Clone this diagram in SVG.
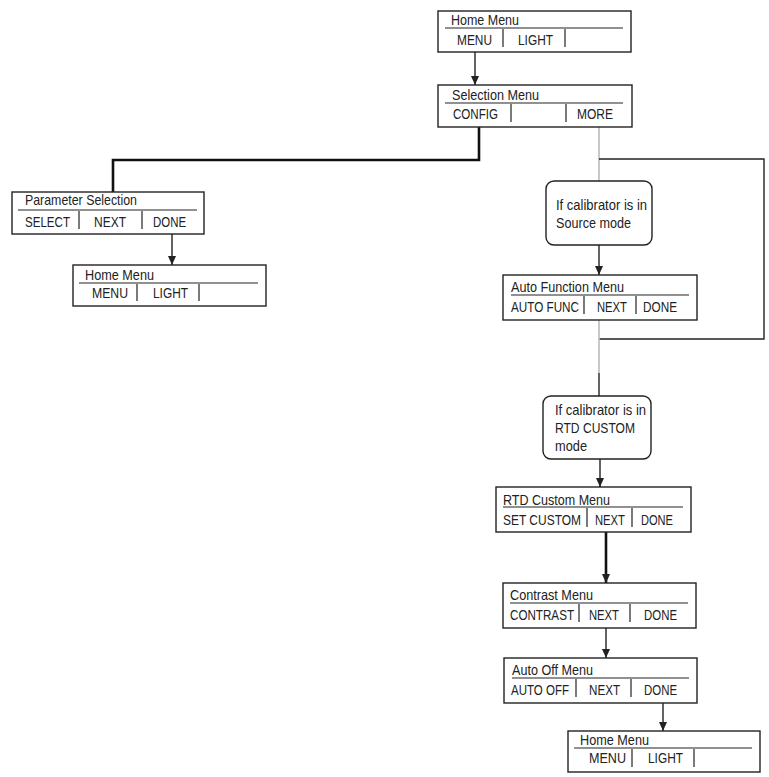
<svg xmlns="http://www.w3.org/2000/svg" width="769" height="777" viewBox="0 0 769 777">
<defs>
<marker id="arr" markerUnits="userSpaceOnUse" markerWidth="10" markerHeight="10" viewBox="0 0 10 10" refX="9" refY="5" orient="auto">
<path d="M0,1 L9,5 L0,9 Z" fill="#222"/>
</marker>
</defs>
<style>
.box{fill:#fff;stroke:#222;stroke-width:1.4}
.ul{stroke:#222;stroke-width:1.2}
.sep{stroke:#222;stroke-width:1.2}
text{font-family:"Liberation Sans Narrow","Liberation Sans",Arial,sans-serif;font-size:15px;fill:#222}
.ln{fill:none;stroke:#222;stroke-width:1.4}
.thick{fill:none;stroke:#111;stroke-width:2.6}
.grey{fill:none;stroke:#bbb;stroke-width:1.6}
</style>
<rect width="769" height="777" fill="#fff"/>
<g id="connectors">
<line class="ln" x1="475" y1="52" x2="475" y2="85" marker-end="url(#arr)"/>
<path class="thick" d="M479,127 V160 H113 V192"/>
<line class="ln" x1="172" y1="234" x2="172" y2="265" marker-end="url(#arr)"/>
<line class="grey" x1="599" y1="127" x2="599" y2="181"/>
<path class="ln" d="M599,159 H764 V339 H599"/>
<line class="ln" x1="599" y1="245" x2="599" y2="275" marker-end="url(#arr)"/>
<line class="grey" x1="599" y1="320" x2="599" y2="373"/>
<line class="ln" x1="599" y1="373" x2="599" y2="396"/>
<line class="ln" x1="600" y1="459" x2="600" y2="487" marker-end="url(#arr)"/>
<line class="thick" x1="606" y1="532" x2="606" y2="583" marker-end="url(#arr)"/>
<line class="ln" x1="606" y1="628" x2="606" y2="658" marker-end="url(#arr)"/>
<line class="ln" x1="663" y1="703" x2="663" y2="731" marker-end="url(#arr)"/>
</g>
<g id="home-menu-1">
<rect class="box" x="438" y="11" width="193" height="41"/>
<text x="451" y="25" textLength="68" lengthAdjust="spacingAndGlyphs">Home Menu</text>
<line class="ul" x1="445" y1="28" x2="623" y2="28"/>
<line class="sep" x1="503" y1="29" x2="503" y2="47"/>
<line class="sep" x1="565" y1="29" x2="565" y2="47"/>
<text x="457" y="45" textLength="35" lengthAdjust="spacingAndGlyphs">MENU</text>
<text x="518" y="45" textLength="35" lengthAdjust="spacingAndGlyphs">LIGHT</text>
</g>
<g id="selection-menu">
<rect class="box" x="438" y="85" width="194" height="42"/>
<text x="452" y="100" textLength="87" lengthAdjust="spacingAndGlyphs">Selection Menu</text>
<line class="ul" x1="445" y1="103" x2="623" y2="103"/>
<line class="sep" x1="511" y1="104" x2="511" y2="122"/>
<line class="sep" x1="566" y1="104" x2="566" y2="122"/>
<text x="453" y="119" textLength="45" lengthAdjust="spacingAndGlyphs">CONFIG</text>
<text x="577" y="119" textLength="36" lengthAdjust="spacingAndGlyphs">MORE</text>
</g>
<g id="parameter-selection">
<rect class="box" x="12" y="192" width="192" height="42"/>
<text x="25" y="205" textLength="112" lengthAdjust="spacingAndGlyphs">Parameter Selection</text>
<line class="ul" x1="18" y1="210" x2="197" y2="210"/>
<line class="sep" x1="79" y1="211" x2="79" y2="229"/>
<line class="sep" x1="142" y1="211" x2="142" y2="229"/>
<text x="25" y="227" textLength="45" lengthAdjust="spacingAndGlyphs">SELECT</text>
<text x="94" y="227" textLength="32" lengthAdjust="spacingAndGlyphs">NEXT</text>
<text x="153" y="227" textLength="33" lengthAdjust="spacingAndGlyphs">DONE</text>
</g>
<g id="home-menu-2">
<rect class="box" x="73" y="265" width="193" height="41"/>
<text x="85" y="280" textLength="69" lengthAdjust="spacingAndGlyphs">Home Menu</text>
<line class="ul" x1="79" y1="283" x2="258" y2="283"/>
<line class="sep" x1="137" y1="284" x2="137" y2="301"/>
<line class="sep" x1="199" y1="284" x2="199" y2="301"/>
<text x="92" y="298" textLength="36" lengthAdjust="spacingAndGlyphs">MENU</text>
<text x="153" y="298" textLength="35" lengthAdjust="spacingAndGlyphs">LIGHT</text>
</g>
<g id="cond-source">
<rect class="box" x="546" y="181" width="106" height="64" rx="8"/>
<text x="556" y="210" textLength="91" lengthAdjust="spacingAndGlyphs">If calibrator is in</text>
<text x="556" y="228" textLength="75" lengthAdjust="spacingAndGlyphs">Source mode</text>
</g>
<g id="auto-function-menu">
<rect class="box" x="503" y="275" width="194" height="45"/>
<text x="511" y="292" textLength="113" lengthAdjust="spacingAndGlyphs">Auto Function Menu</text>
<line class="ul" x1="511" y1="295" x2="689" y2="295"/>
<line class="sep" x1="584" y1="296" x2="584" y2="314"/>
<line class="sep" x1="636" y1="296" x2="636" y2="314"/>
<text x="511" y="312" textLength="68" lengthAdjust="spacingAndGlyphs">AUTO FUNC</text>
<text x="597" y="312" textLength="30" lengthAdjust="spacingAndGlyphs">NEXT</text>
<text x="643" y="312" textLength="34" lengthAdjust="spacingAndGlyphs">DONE</text>
</g>
<g id="cond-rtd">
<rect class="box" x="543" y="396" width="108" height="63" rx="8"/>
<text x="555" y="415" textLength="91" lengthAdjust="spacingAndGlyphs">If calibrator is in</text>
<text x="555" y="433" textLength="80" lengthAdjust="spacingAndGlyphs">RTD CUSTOM</text>
<text x="555" y="451" textLength="32" lengthAdjust="spacingAndGlyphs">mode</text>
</g>
<g id="rtd-custom-menu">
<rect class="box" x="496" y="487" width="195" height="45"/>
<text x="503" y="505" textLength="107" lengthAdjust="spacingAndGlyphs">RTD Custom Menu</text>
<line class="ul" x1="503" y1="507" x2="683" y2="507"/>
<line class="sep" x1="587" y1="508" x2="587" y2="527"/>
<line class="sep" x1="632" y1="508" x2="632" y2="527"/>
<text x="503" y="525" textLength="78" lengthAdjust="spacingAndGlyphs">SET CUSTOM</text>
<text x="595" y="525" textLength="30" lengthAdjust="spacingAndGlyphs">NEXT</text>
<text x="641" y="525" textLength="32" lengthAdjust="spacingAndGlyphs">DONE</text>
</g>
<g id="contrast-menu">
<rect class="box" x="503" y="583" width="193" height="45"/>
<text x="510" y="600" textLength="83" lengthAdjust="spacingAndGlyphs">Contrast Menu</text>
<line class="ul" x1="510" y1="603" x2="688" y2="603"/>
<line class="sep" x1="579" y1="604" x2="579" y2="622"/>
<line class="sep" x1="630" y1="604" x2="630" y2="622"/>
<text x="510" y="620" textLength="64" lengthAdjust="spacingAndGlyphs">CONTRAST</text>
<text x="589" y="620" textLength="30" lengthAdjust="spacingAndGlyphs">NEXT</text>
<text x="644" y="620" textLength="33" lengthAdjust="spacingAndGlyphs">DONE</text>
</g>
<g id="auto-off-menu">
<rect class="box" x="504" y="658" width="193" height="45"/>
<text x="512" y="675" textLength="81" lengthAdjust="spacingAndGlyphs">Auto Off Menu</text>
<line class="ul" x1="512" y1="678" x2="689" y2="678"/>
<line class="sep" x1="576" y1="679" x2="576" y2="697"/>
<line class="sep" x1="631" y1="679" x2="631" y2="697"/>
<text x="511" y="695" textLength="58" lengthAdjust="spacingAndGlyphs">AUTO OFF</text>
<text x="589" y="695" textLength="31" lengthAdjust="spacingAndGlyphs">NEXT</text>
<text x="644" y="695" textLength="33" lengthAdjust="spacingAndGlyphs">DONE</text>
</g>
<g id="home-menu-3">
<rect class="box" x="568" y="731" width="192" height="41"/>
<text x="580" y="745" textLength="69" lengthAdjust="spacingAndGlyphs">Home Menu</text>
<line class="ul" x1="574" y1="748" x2="752" y2="748"/>
<line class="sep" x1="632" y1="749" x2="632" y2="767"/>
<line class="sep" x1="694" y1="749" x2="694" y2="767"/>
<text x="589" y="763" textLength="37" lengthAdjust="spacingAndGlyphs">MENU</text>
<text x="648" y="763" textLength="35" lengthAdjust="spacingAndGlyphs">LIGHT</text>
</g>
</svg>
